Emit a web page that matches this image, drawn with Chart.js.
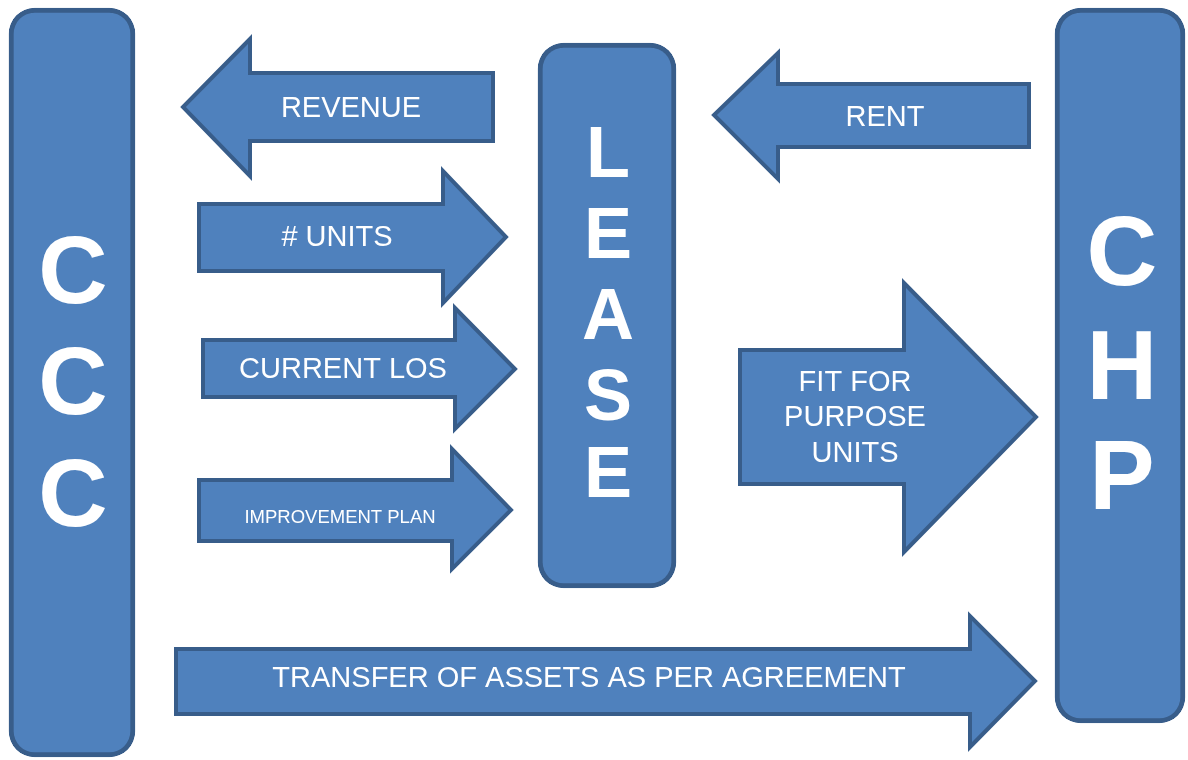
<!DOCTYPE html>
<html>
<head>
<meta charset="utf-8">
<script src="https://cdn.jsdelivr.net/npm/chart.js@4/dist/chart.umd.min.js"></script>
<style>
  html, body { margin: 0; padding: 0; background: #ffffff; }
  #wrap { width: 1188px; height: 760px; }
</style>
</head>
<body>
<div id="wrap"><canvas id="c" width="1188" height="760"></canvas></div>
<script>
// ---- Diagram data (in a 1188 x 760 coordinate space) ----
// Rounded boxes: name, centre x, width, top, bottom
const boxNames   = ['CCC', 'LEASE', 'CHP'];
const boxCenterX = [72, 607, 1120];
const boxWidth   = [126, 138, 130];
const boxTop     = [8, 43, 8];
const boxBottom  = [757, 588, 723];

// Box letters (stacked vertically)
const cccLetters   = ['C', 'C', 'C'];
const cccLetterY   = [269, 380, 492];
const leaseLetters = ['L', 'E', 'A', 'S', 'E'];
const leaseLetterY = [151, 232, 313, 394, 471];
const chpLetters   = ['C', 'H', 'P'];
const chpLetterY   = [250, 364, 474];

// Block arrows: outline vertices [x, y]
const revenueArrow     = [[493,73],[250,73],[250,39],[183,107],[250,176],[250,141],[493,141]];
const rentArrow        = [[1029,84],[778,84],[778,53],[714,115],[778,179],[778,147],[1029,147]];
const unitsArrow       = [[199,204],[443,204],[443,171],[506,237],[443,303],[443,271],[199,271]];
const currentLosArrow  = [[203,340],[455,340],[455,308],[515,369],[455,429],[455,397],[203,397]];
const improvementArrow = [[199,480],[452,480],[452,449],[511,510],[452,569],[452,541],[199,541]];
const fitArrow         = [[740,350],[904,350],[904,283],[1036,417],[904,552],[904,484],[740,484]];
const transferArrow    = [[176,649],[970,649],[970,616],[1035,681],[970,747],[970,714],[176,714]];

// Arrow captions
const captionText = ['REVENUE', '# UNITS', 'CURRENT LOS', 'IMPROVEMENT PLAN', 'RENT',
                     'FIT FOR', 'PURPOSE', 'UNITS', 'TRANSFER OF ASSETS AS PER AGREEMENT'];
const captionX    = [351, 337, 343, 340, 885, 855, 855, 855, 589];
const captionY    = [107, 236, 368, 516, 116, 381, 416, 452, 677];
const captionSize = [29, 29, 29, 18.5, 29, 29, 29, 29, 29];

// ---- Styles ----
const FILL = '#4F81BD';
const EDGE = '#385D8A';

const arrows = [revenueArrow, rentArrow, unitsArrow, currentLosArrow,
                improvementArrow, fitArrow, transferArrow];

const datasets = [];
boxNames.forEach((name, i) => {
  datasets.push({
    type: 'bar',
    label: name,
    data: [{ x: boxCenterX[i], y: [boxTop[i], boxBottom[i]] }],
    backgroundColor: FILL,
    borderColor: EDGE,
    borderWidth: 5,
    borderRadius: 26,
    borderSkipped: false,
    barThickness: boxWidth[i],
    grouped: false,
    clip: false,
    order: 2
  });
});
arrows.forEach((pts, i) => {
  const closed = pts.concat([pts[0], pts[1]]);
  datasets.push({
    type: 'line',
    label: 'arrow' + i,
    data: closed.map(p => ({ x: p[0], y: p[1] })),
    backgroundColor: FILL,
    borderColor: EDGE,
    borderWidth: 4,
    borderJoinStyle: 'miter',
    fill: 'shape',
    tension: 0,
    pointRadius: 0,
    pointHoverRadius: 0,
    clip: false,
    order: 1
  });
});

const textPlugin = {
  id: 'diagramText',
  afterDatasetsDraw(chart) {
    const { ctx, scales: { x, y } } = chart;
    ctx.save();
    ctx.fillStyle = '#ffffff';
    ctx.textAlign = 'center';
    ctx.textBaseline = 'alphabetic';
    const put = (txt, cx, cy, size, bold) => {
      ctx.font = (bold ? 'bold ' : '') + size + 'px "Liberation Sans", Arial, sans-serif';
      ctx.fillText(txt, x.getPixelForValue(cx), y.getPixelForValue(cy) + size * 0.716 / 2);
    };
    cccLetters.forEach((t, i) => put(t, boxCenterX[0] + 1, cccLetterY[i], 96, true));
    leaseLetters.forEach((t, i) => put(t, boxCenterX[1] + 1, leaseLetterY[i], 72, true));
    chpLetters.forEach((t, i) => put(t, boxCenterX[2] + 2, chpLetterY[i], 98, true));
    captionText.forEach((t, i) => put(t, captionX[i], captionY[i], captionSize[i], false));
    ctx.restore();
  }
};

new Chart(document.getElementById('c'), {
  type: 'line',
  data: { datasets },
  options: {
    responsive: false,
    animation: false,
    devicePixelRatio: 1,
    layout: { padding: 0 },
    plugins: { legend: { display: false }, tooltip: { enabled: false } },
    events: [],
    scales: {
      x: { type: 'linear', min: 0, max: 1188, offset: false, display: false },
      y: { type: 'linear', min: 0, max: 760, reverse: true, display: false }
    }
  },
  plugins: [textPlugin]
});
</script>
</body>
</html>
